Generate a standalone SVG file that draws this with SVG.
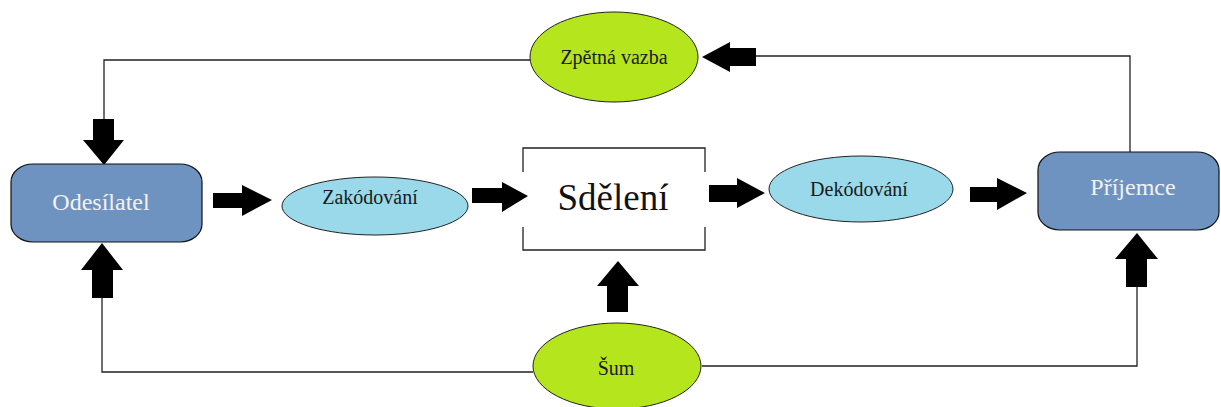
<svg xmlns="http://www.w3.org/2000/svg" width="1221" height="407" viewBox="0 0 1221 407">
<style>
.box{fill:#6f93c0;stroke:#111;stroke-width:1.2}
.blue{fill:#99d9ea;stroke:#222;stroke-width:1}
.green{fill:#b5e61d;stroke:#222;stroke-width:1}
.ln{fill:none;stroke:#222;stroke-width:1.3}
.arr{fill:#000}
text{font-family:'Liberation Serif','DejaVu Serif',serif;text-anchor:middle}
.wt{fill:#f2f2f2;font-size:24px}
.dt{fill:#1a1a1a;font-size:20px}
</style>
<rect width="1221" height="407" fill="#fff"/>
<g id="connectors">
<path class="ln" d="M530,60 H104 V119"/>
<path class="ln" d="M756,56 H1130 V152"/>
<path class="ln" d="M533,372 H102 V298"/>
<path class="ln" d="M702,366 H1137 V287"/>
<polygon class="arr" points="93,119 114,119 114,140 124,140 104,165 83,140 93,140"/>
<polygon class="arr" points="92,298 113,298 113,270 123,270 102,243 81,270 92,270"/>
<polygon class="arr" points="1126,287 1147,287 1147,259 1158,259 1137,233 1115,259 1126,259"/>
<polygon class="arr" points="607,312 628,312 628,286 639,286 618,261 597,286 607,286"/>
<polygon class="arr" points="756,48 756,66 730,66 730,72 702,57 730,42 730,48"/>
<polygon class="arr" points="213,193 242,193 242,185 272,200 242,216 242,208 213,208"/>
<polygon class="arr" points="472,188 502,188 502,182 528,196 502,212 502,203 472,203"/>
<polygon class="arr" points="709,185 737,185 737,178 765,193 737,208 737,202 709,202"/>
<polygon class="arr" points="970,187 997,187 997,178 1027,193 997,210 997,202 970,202"/>
</g>
<g id="odesilatel">
<rect class="box" x="11" y="164" width="191" height="78" rx="22" ry="18"/>
<text class="wt" x="101" y="210" font-family="Liberation Serif, serif">Odesílatel</text>
</g>
<g id="zakodovani">
<ellipse class="blue" cx="375" cy="206" rx="93" ry="29"/>
<text class="dt" x="370" y="204" font-family="Liberation Serif, serif">Zakódování</text>
</g>
<g id="sdeleni">
<path class="ln" d="M523,172 V148 H705 V172 M705,227 V250 H523 V227"/>
<text x="613" y="210" font-size="37" fill="#111" font-family="Liberation Serif, serif">Sdělení</text>
</g>
<g id="dekodovani">
<ellipse class="blue" cx="861" cy="189" rx="92" ry="33"/>
<text class="dt" x="859" y="196" font-family="Liberation Serif, serif">Dekódování</text>
</g>
<g id="prijemce">
<rect class="box" x="1038" y="152" width="181" height="78" rx="22" ry="18"/>
<text class="wt" x="1133" y="195" font-family="Liberation Serif, serif">Příjemce</text>
</g>
<g id="zpetna-vazba">
<ellipse class="green" cx="614" cy="57" rx="84" ry="45"/>
<text class="dt" x="614" y="64" font-family="Liberation Serif, serif">Zpětná vazba</text>
</g>
<g id="sum">
<ellipse class="green" cx="617" cy="366" rx="84" ry="43"/>
<text class="dt" x="616" y="375" font-family="Liberation Serif, serif">Šum</text>
</g>
</svg>
